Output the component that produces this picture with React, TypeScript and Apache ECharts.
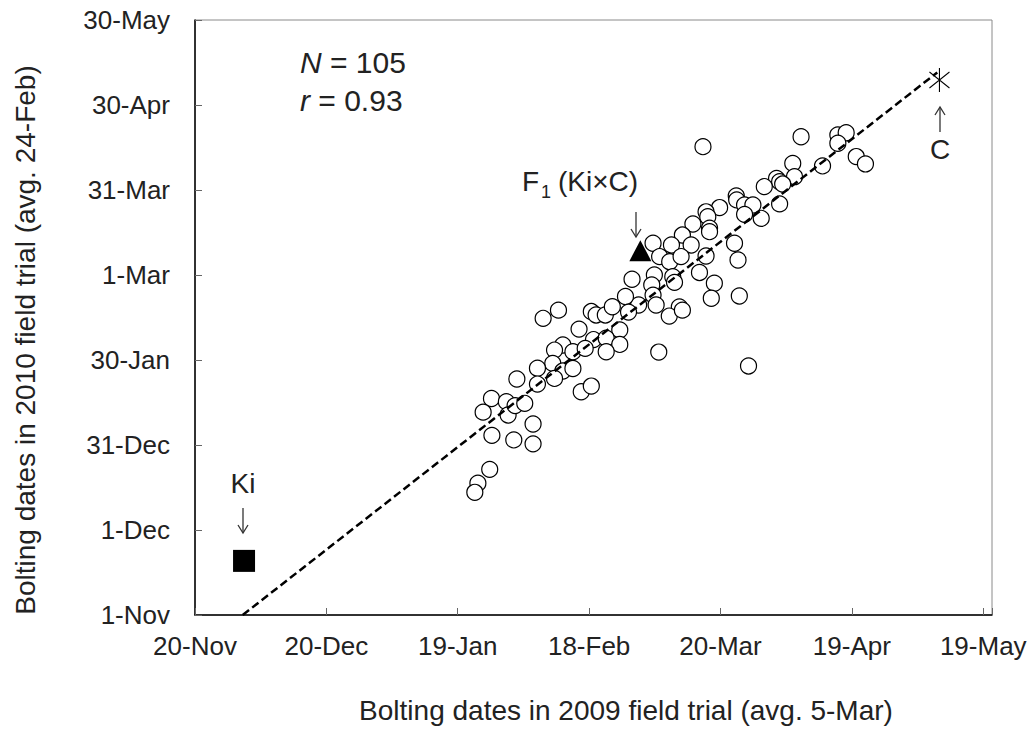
import { useEffect, useRef } from 'react';
import * as echarts from 'echarts';

// Tick labels (30-day steps)
const xTickLabels = ['20-Nov', '20-Dec', '19-Jan', '18-Feb', '20-Mar', '19-Apr', '19-May'];
const yTickLabels = ['1-Nov', '1-Dec', '31-Dec', '30-Jan', '1-Mar', '31-Mar', '30-Apr', '30-May'];

// Days after 20-Nov-2008 (2009 trial) and after 1-Nov-2009 (2010 trial)
const bolt2009 = [
  138.4, 146.8, 148.7, 146.8, 151.0, 153.1, 143.3, 136.5, 136.9, 132.8, 133.5, 134.2, 130.0, 133.5,
  123.6, 123.7, 125.5, 127.4, 125.5, 129.3, 119.8, 116.7, 117.1, 117.5, 117.5, 116.0, 113.7, 111.3,
  108.8, 113.3, 104.6, 123.2, 124.0, 106.1, 108.4, 111.0, 116.7, 104.9, 109.1, 109.5, 115.2, 118.6,
  117.9, 124.3, 99.8, 104.3, 104.6, 105.3, 101.3, 98.3, 110.6, 108.3, 90.5, 91.6, 93.7, 95.3,
  99.0, 79.5, 83.0, 87.7, 97.0, 91.0, 93.9, 97.0, 93.9, 84.0, 82.1, 86.3, 89.1, 81.7,
  84.0, 86.3, 82.1, 78.2, 78.2, 73.5, 88.2, 90.5, 105.9, 126.4, 67.7, 65.8, 71.1, 71.5,
  73.1, 75.3, 77.2, 67.8, 72.8, 77.2, 67.3, 64.6, 63.9, 111.3,
];
const bolt2010 = [
  168.8, 169.4, 170.2, 166.5, 161.8, 159.2, 158.5, 159.4, 154.7, 154.1, 152.9, 152.1, 151.2, 145.1,
  147.9, 146.5, 144.7, 144.7, 141.4, 140.0, 143.8, 142.3, 140.6, 136.5, 135.3, 165.3, 138.0, 134.1,
  130.6, 130.6, 131.2, 131.2, 125.3, 126.5, 124.7, 126.5, 126.7, 120.0, 119.4, 117.4, 120.9, 117.1,
  111.8, 112.6, 118.5, 116.5, 112.9, 109.4, 109.4, 112.4, 108.7, 105.5, 107.1, 105.9, 105.9, 108.8,
  106.9, 104.7, 107.6, 100.9, 100.6, 97.2, 97.7, 95.5, 92.9, 95.3, 93.5, 92.9, 94.1, 88.8,
  86.1, 87.0, 83.5, 87.1, 81.5, 83.3, 78.8, 80.8, 92.8, 87.9, 76.4, 71.6, 75.3, 70.6,
  73.9, 74.7, 67.4, 63.4, 61.8, 60.4, 51.4, 46.5, 43.3, 107.6,
];
const kiPoint = [11.2, 19.1];
const f1Point = [101.7, 128.6];
const cPoint = [170.0, 188.8];
const trendX = [10.9, 169.5];
const trendY = [0, 191.5];

const FONT = "Arial, 'Liberation Sans', sans-serif";
const TXT = '#222';

export default function App() {
  const ref = useRef<HTMLDivElement>(null);
  useEffect(() => {
    document.body.style.margin = '0';
    const chart = echarts.init(ref.current!, undefined, { renderer: 'svg' });
    const t = (text: string, x: number, y: number, size: number, extra: any = {}) => ({
      type: 'text',
      x,
      y,
      z: 100,
      style: { text, fill: TXT, fontFamily: FONT, fontSize: size, align: 'center', verticalAlign: 'middle', ...extra },
    });
    // thin arrow with open head; dir = 1 points down, -1 points up
    const arrow = (x: number, yTail: number, yHead: number) => {
      const d = yHead > yTail ? 1 : -1;
      return {
        type: 'group',
        z: 100,
        children: [
          { type: 'line', shape: { x1: x, y1: yTail, x2: x, y2: yHead }, style: { stroke: '#333', lineWidth: 1.3 } },
          {
            type: 'polyline',
            shape: { points: [[x - 5, yHead - d * 8], [x, yHead], [x + 5, yHead - d * 8]] },
            style: { stroke: '#333', lineWidth: 1.3, fill: 'none' },
          },
        ],
      };
    };
    chart.setOption({
      animation: false,
      backgroundColor: '#fff',
      grid: { left: 195, top: 20, width: 797, height: 595, show: true, borderColor: '#8a8a8a', borderWidth: 1 },
      xAxis: {
        type: 'value',
        min: 0,
        max: 182,
        interval: 30,
        axisLine: { onZero: false, lineStyle: { color: '#000', width: 1.5 } },
        axisTick: { inside: true, length: 7, lineStyle: { color: '#666' } },
        splitLine: { show: false },
        axisLabel: {
          margin: 18,
          fontSize: 26,
          fontFamily: FONT,
          color: TXT,
          formatter: (v: number) => (v % 30 === 0 ? xTickLabels[v / 30] : ''),
        },
      },
      yAxis: {
        type: 'value',
        min: 0,
        max: 210,
        interval: 30,
        axisLine: { onZero: false, lineStyle: { color: '#000', width: 1.5 } },
        axisTick: { inside: true, length: 7, lineStyle: { color: '#666' } },
        splitLine: { show: false },
        axisLabel: {
          margin: 25,
          fontSize: 26,
          fontFamily: FONT,
          color: TXT,
          formatter: (v: number) => (v % 30 === 0 ? yTickLabels[v / 30] : ''),
        },
      },
      series: [
        {
          type: 'scatter',
          data: bolt2009.map((x, i) => [x, bolt2010[i]]),
          symbol: 'circle',
          symbolSize: 16,
          itemStyle: { color: '#fff', borderColor: '#000', borderWidth: 1.2, opacity: 1 },
          z: 2,
        },
        {
          type: 'scatter',
          data: [kiPoint],
          symbol: 'rect',
          symbolSize: 22,
          itemStyle: { color: '#000', opacity: 1 },
          z: 3,
        },
        {
          type: 'scatter',
          data: [f1Point],
          symbol: 'triangle',
          symbolSize: [22, 21],
          itemStyle: { color: '#000', opacity: 1 },
          z: 3,
        },
        {
          type: 'scatter',
          data: [cPoint],
          symbol: 'path://M10 0 L10 24 M0 4 L20 20 M20 4 L0 20',
          symbolSize: [20, 24],
          itemStyle: { color: 'rgba(0,0,0,0)', borderColor: '#000', borderWidth: 1.2, opacity: 1 },
          z: 3,
        },
        {
          type: 'line',
          data: trendX.map((x, i) => [x, trendY[i]]),
          symbol: 'none',
          showSymbol: false,
          lineStyle: { color: '#000', width: 2.5, type: [8, 4] },
          z: 5,
        },
      ],
      graphic: [
        t('{i|N} = 105', 300, 62, 30, {
          align: 'left',
          rich: { i: { fontStyle: 'italic', fontSize: 30, fontFamily: FONT, fill: TXT } },
        }),
        t('{i|r} = 0.93', 300, 100, 30, {
          align: 'left',
          rich: { i: { fontStyle: 'italic', fontSize: 30, fontFamily: FONT, fill: TXT } },
        }),
        t('F', 522, 181, 28, { align: 'left' }),
        t('1', 541, 192, 18, { align: 'left' }),
        t('(Ki×C)', 558, 181, 28, { align: 'left' }),
        arrow(636, 212, 237),
        t('Ki', 243, 483, 28),
        arrow(243, 508, 533),
        arrow(940, 132, 107),
        t('C', 940, 149, 28),
        t('Bolting dates in 2009 field trial (avg. 5-Mar)', 626, 710, 28),
        {
          ...t('Bolting dates in 2010 field trial (avg. 24-Feb)', 25, 340, 28),
          rotation: Math.PI / 2,
        },
      ],
    });
    return () => chart.dispose();
  }, []);
  return <div ref={ref} style={{ width: 1035, height: 734 }} />;
}
